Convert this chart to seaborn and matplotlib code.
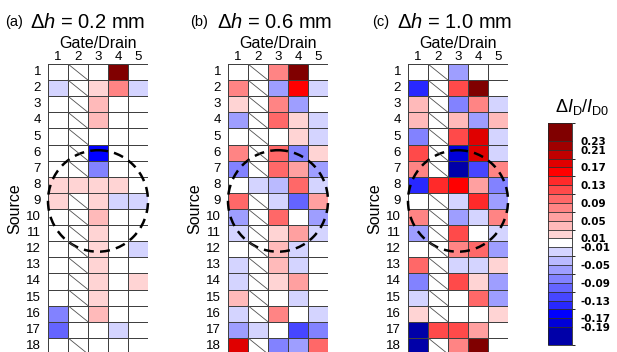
import numpy as np
import pandas as pd
import matplotlib
matplotlib.use("Agg")
import matplotlib.pyplot as plt
from matplotlib.colors import ListedColormap, BoundaryNorm
from matplotlib.patches import Ellipse
import seaborn as sns

nan = np.nan

# rows = Source 1..18, columns = Gate/Drain 1..5 ; nan = hatched (not measured)
dh_02 = [
    [0, nan, 0, 0.25, 0],
    [-0.02, nan, 0.02, 0.08, -0.02],
    [0, nan, 0.04, 0, 0],
    [0, nan, 0.04, 0, 0],
    [0, nan, 0, 0, 0],
    [0, nan, -0.16, 0, 0],
    [0, nan, -0.08, 0, 0],
    [0.02, 0.02, 0.02, 0.02, 0],
    [0.02, nan, 0.02, -0.02, -0.02],
    [0, nan, 0.04, 0, 0],
    [0, nan, 0.02, 0, 0],
    [0, nan, 0.02, 0, -0.02],
    [0, nan, 0.02, 0, 0],
    [0, nan, 0.02, 0, 0.02],
    [0, nan, 0.02, 0, 0],
    [-0.08, nan, 0.04, 0, 0],
    [-0.10, 0, 0, -0.02, 0],
    [0, nan, 0, 0, 0],
]
dh_06 = [
    [0, nan, 0.08, 0.25, 0],
    [0.08, nan, -0.06, 0.16, -0.02],
    [0.02, nan, 0.08, -0.06, 0],
    [-0.06, nan, 0.10, 0.02, -0.02],
    [0, nan, 0, 0.02, -0.02],
    [0.08, nan, 0.10, -0.08, 0.02],
    [-0.08, nan, 0.10, 0.06, -0.06],
    [0, -0.02, -0.04, 0.10, -0.02],
    [0.10, nan, -0.02, -0.10, 0.06],
    [-0.06, nan, 0.10, 0, -0.06],
    [-0.02, nan, 0.02, 0.06, -0.02],
    [0, nan, 0.04, -0.02, 0],
    [-0.02, nan, 0.04, -0.02, 0],
    [-0.02, nan, 0.02, 0.06, 0],
    [0.04, nan, 0, -0.02, 0],
    [-0.02, nan, 0.08, 0, -0.02],
    [-0.06, -0.02, 0, -0.12, -0.08],
    [0.18, nan, -0.08, -0.06, 0.10],
]
dh_10 = [
    [0, nan, -0.06, 0, 0],
    [-0.14, nan, 0.12, 0.25, 0],
    [0.04, nan, -0.08, 0.08, -0.02],
    [0.04, nan, 0.04, -0.06, 0.04],
    [-0.08, nan, 0.12, 0.18, -0.02],
    [0.12, nan, -0.18, 0.18, -0.02],
    [0.08, nan, -0.21, -0.12, 0.08],
    [-0.14, 0.14, 0.16, 0.06, -0.08],
    [0, nan, -0.02, 0.14, -0.06],
    [0.08, nan, -0.06, -0.02, 0.08],
    [-0.06, nan, 0.12, 0, -0.02],
    [0, nan, 0.08, 0.10, -0.06],
    [0.10, nan, -0.02, -0.02, 0.02],
    [-0.08, nan, 0.12, 0.02, -0.06],
    [-0.02, nan, 0, 0.10, -0.06],
    [0.02, nan, 0, 0, 0.02],
    [-0.21, 0.12, 0.12, 0.06, 0],
    [-0.21, nan, 0.08, 0.25, 0],
]
absent = [(0, 0), (0, 4)]  # cells not present in row 1
panels = ["(a)", "(b)", "(c)"]
heights = ["0.2", "0.6", "1.0"]
rows = [str(i) for i in range(1, 19)]
cols = [str(i) for i in range(1, 6)]

bounds = [-0.23, -0.19, -0.17, -0.15, -0.13, -0.11, -0.09, -0.07, -0.05, -0.03, -0.01,
          0.01, 0.03, 0.05, 0.07, 0.09, 0.11, 0.13, 0.15, 0.17, 0.19, 0.21, 0.23, 0.27]
colors = ['#0000a8', '#0000d8', '#0000ff', '#2828ff', '#4646ff', '#6464ff', '#8282ff',
          '#9e9eff', '#babaff', '#d4d4ff', '#ffffff',
          '#ffd4d4', '#ffbaba', '#ffa0a0', '#ff8484', '#ff6868', '#ff4a4a', '#ff2a2a',
          '#ff0000', '#e00000', '#c00000', '#a00000', '#800000']
cbar_ticks = [0.23, 0.21, 0.17, 0.13, 0.09, 0.05, 0.01, -0.01, -0.05, -0.09, -0.13, -0.17, -0.19]

cmap = ListedColormap(colors)
norm = BoundaryNorm(bounds, cmap.N)

sns.set_style("white")
plt.rcParams['font.family'] = ['Liberation Sans', 'DejaVu Sans']
plt.rcParams['text.color'] = 'black'
plt.rcParams['axes.labelcolor'] = 'black'
plt.rcParams['xtick.color'] = 'black'
plt.rcParams['ytick.color'] = 'black'
plt.rcParams['mathtext.fontset'] = 'custom'
plt.rcParams['mathtext.rm'] = 'Liberation Sans'
plt.rcParams['mathtext.it'] = 'Liberation Sans:italic'

fig = plt.figure(figsize=(6.17, 3.52), dpi=100)
W, H = 617, 352
lefts = [48, 228, 408]
title_x = [(5, 30), (190, 217), (372, 397)]

for k, data in enumerate([dh_02, dh_06, dh_10]):
    df = pd.DataFrame(data, index=rows, columns=cols)
    hatched = df.isna()
    mask = np.zeros(df.shape, dtype=bool)
    for r, c in absent:
        mask[r, c] = True
    ax = fig.add_axes([lefts[k] / W, -2 / H, 100 / W, 290 / H])
    sns.heatmap(df.fillna(0), ax=ax, cmap=cmap, norm=norm, mask=mask, cbar=False,
                linewidths=0.7, linecolor='#404040')
    # diagonal for the cells that were not measured
    for r in range(df.shape[0]):
        for c in range(df.shape[1]):
            if hatched.iloc[r, c]:
                ax.plot([c, c + 1], [r, r + 1], color='#505050', lw=0.6)
    ax.add_patch(Ellipse((2.5, 8.5), 5.0, 6.3, fill=False, ls=(0, (4, 2.5)), lw=1.8,
                         color='black', clip_on=False))
    ax.xaxis.tick_top()
    ax.xaxis.set_label_position('top')
    ax.set_xlabel('Gate/Drain', fontsize=11.5, labelpad=2)
    ax.set_ylabel('Source', fontsize=11.5, labelpad=3)
    ax.set_xticklabels(cols, fontsize=9.5, rotation=0)
    ax.set_yticklabels(rows, fontsize=9.5, rotation=0)
    ax.tick_params(length=0, pad=1)
    ax.tick_params(axis='y', pad=5)
    fig.text(title_x[k][0] / W, 1 - 22 / H, panels[k], fontsize=10.5, va='center')
    fig.text(title_x[k][1] / W, 1 - 22 / H, r'$\Delta h$ = ' + heights[k] + ' mm',
             fontsize=14.5, va='center')

cax = fig.add_axes([548 / W, 1 - 345 / H, 24 / W, 222 / H])
cb = fig.colorbar(ax.collections[0], cax=cax, spacing='proportional', drawedges=True,
                  ticks=cbar_ticks)
cb.dividers.set_color('#303030')
cb.dividers.set_linewidth(0.6)
cb.outline.set_linewidth(0.6)
cax.tick_params(length=0, pad=6)
cax.set_yticklabels(['%.2f' % t for t in cbar_ticks], fontsize=7.5, fontweight='bold',
                    family=['DejaVu Sans'])
fig.text(582 / W, 1 - 107 / H, r'$\Delta I_\mathrm{D}/I_\mathrm{D0}$', fontsize=13,
         ha='center', va='center')

fig.savefig('out.png', dpi=100)
